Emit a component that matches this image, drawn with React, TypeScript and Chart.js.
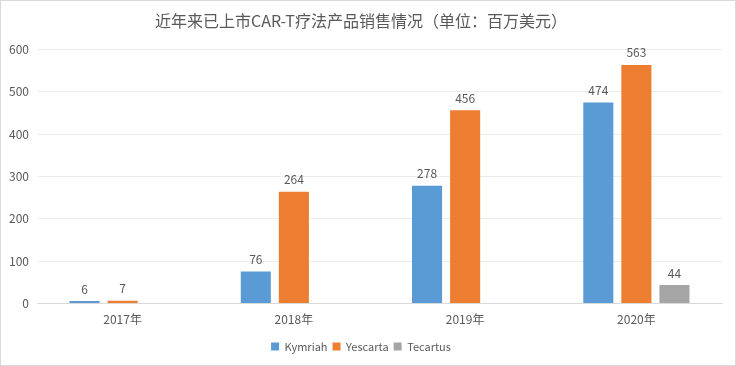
import React, { useEffect, useRef } from "react";
import { Chart, registerables } from "chart.js";

Chart.register(...registerables);

const categories = ["2017年", "2018年", "2019年", "2020年"];
const kymriah = [6, 76, 278, 474];
const yescarta = [7, 264, 456, 563];
const tecartus: (number | null)[] = [null, null, null, 44];
const yTicks = [0, 100, 200, 300, 400, 500, 600];

const FONT = "'Noto Sans CJK SC', 'Noto Sans', sans-serif";
const TEXT = "#595959";

const bgPlugin = {
  id: "bgBorder",
  beforeDraw(chart: any) {
    const { ctx, width, height } = chart;
    ctx.save();
    ctx.fillStyle = "#ffffff";
    ctx.fillRect(0, 0, width, height);
    ctx.strokeStyle = "#D9D9D9";
    ctx.lineWidth = 1;
    ctx.strokeRect(0.5, 0.5, width - 1, height - 1);
    ctx.restore();
  },
};

const labelPlugin = {
  id: "barLabels",
  afterDatasetsDraw(chart: any) {
    const { ctx } = chart;
    ctx.save();
    ctx.font = `12px ${FONT}`;
    ctx.fillStyle = TEXT;
    ctx.textAlign = "center";
    ctx.textBaseline = "bottom";
    chart.data.datasets.forEach((ds: any, i: number) => {
      const meta = chart.getDatasetMeta(i);
      meta.data.forEach((bar: any, j: number) => {
        const v = ds.data[j];
        if (v === null || v === undefined) return;
        ctx.fillText(String(v), bar.x, bar.y - 6);
      });
    });
    ctx.restore();
  },
};

export default function App() {
  const ref = useRef<HTMLCanvasElement>(null);
  useEffect(() => {
    document.body.style.margin = "0";
    if (!ref.current) return;
    const chart = new Chart(ref.current, {
      type: "bar",
      data: {
        labels: categories,
        datasets: [
          { label: "Kymriah", data: kymriah, backgroundColor: "#5B9BD5" },
          { label: "Yescarta", data: yescarta, backgroundColor: "#ED7D31" },
          { label: "Tecartus", data: tecartus, backgroundColor: "#A5A5A5" },
        ],
      },
      options: {
        animation: false,
        responsive: false,
        maintainAspectRatio: false,
        layout: { padding: { left: 0, right: 14, top: 0, bottom: 4 } },
        datasets: { bar: { categoryPercentage: 0.667, barPercentage: 0.79 } },
        plugins: {
          title: {
            display: true,
            text: "近年来已上市CAR-T疗法产品销售情况（单位：百万美元）",
            color: TEXT,
            font: { family: FONT, size: 16, weight: "normal" },
            padding: { top: 11, bottom: 19 },
          },
          legend: {
            position: "bottom",
            labels: {
              color: TEXT,
              font: { family: FONT, size: 11 },
              boxWidth: 8,
              boxHeight: 8,
              padding: 5,
            },
          },
          tooltip: { enabled: false },
        },
        scales: {
          x: {
            grid: { display: false, drawTicks: false },
            border: { color: "#D9D9D9" },
            ticks: { color: TEXT, font: { family: FONT, size: 12 }, padding: 9 },
          },
          y: {
            min: 0,
            max: 600,
            afterBuildTicks: (s: any) => {
              s.ticks = yTicks.map((v) => ({ value: v }));
            },
            afterFit: (s: any) => {
              s.width = 37;
            },
            grid: { color: "#EDEDED", drawTicks: false },
            border: { display: false },
            ticks: { color: TEXT, font: { family: FONT, size: 12 }, padding: 8 },
          },
        },
      },
      plugins: [bgPlugin, labelPlugin],
    });
    return () => chart.destroy();
  }, []);
  return (
    <div style={{ width: 736, height: 366 }}>
      <canvas ref={ref} width={736} height={366} style={{ display: "block" }} />
    </div>
  );
}
